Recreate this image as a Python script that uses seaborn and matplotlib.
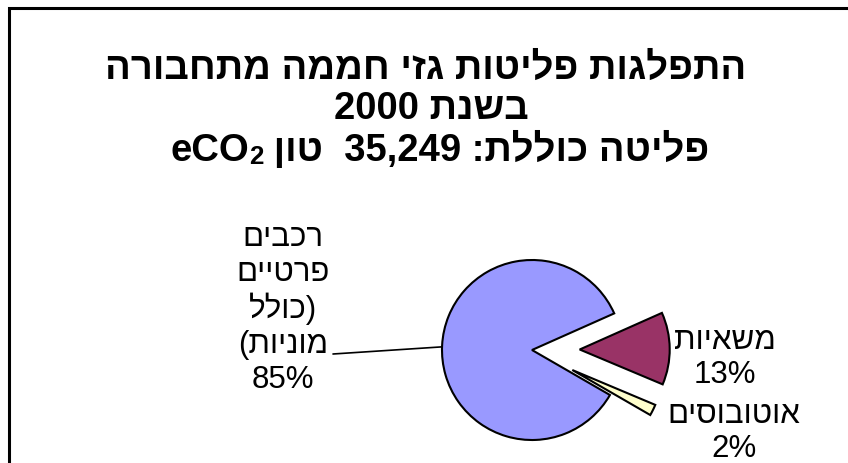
import re
import matplotlib
matplotlib.use("Agg")
import matplotlib.pyplot as plt
import numpy as np
import seaborn as sns

# Transport greenhouse-gas emissions, year 2000 (share of total, %)
categories = ["רכבים\nפרטיים\n(כולל\nמוניות)", "משאיות", "אוטובוסים"]
shares = [85, 13, 2]
colors = ["#9999FF", "#993366", "#FFFFCC"]
explode_frac = [0.0, 0.53, 0.5]   # offset as a fraction of the radius

year = 2000
total_tons = 35249
title_line1 = "התפלגות פליטות גזי חממה מתחבורה"
title_line2 = f"בשנת {year}"
title_line3 = f"פליטה כוללת: {total_tons:,}  טון "

sns.set_theme(style="white")
plt.rcParams["font.family"] = ["Liberation Sans", "DejaVu Sans"]
plt.rcParams["text.color"] = "black"

MIRROR = {"(": ")", ")": "("}


def visual(line):
    """Lay out one right-to-left line as left-to-right glyph order."""
    r = "".join(MIRROR.get(c, c) for c in line[::-1])
    return re.sub(r"[A-Za-z0-9,.%]+", lambda m: m.group(0)[::-1], r)


def visual_block(text):
    return "\n".join(visual(l) for l in text.split("\n"))


W, H = 848, 463
fig = plt.figure(figsize=(W / 100, H / 100), dpi=100)
ax = fig.add_axes([0, 0, 1, 1])

# pie geometry in pixel units (y measured from the bottom)
cx, cy, rad = 532, H - 350, 90
wedges, _ = ax.pie(
    shares,
    colors=colors,
    explode=[f * rad for f in explode_frac],
    startangle=-30,
    counterclock=False,
    center=(cx, cy),
    radius=rad,
    wedgeprops=dict(edgecolor="black", linewidth=1.5),
)
ax.set_xlim(0, W)
ax.set_ylim(0, H)
ax.set_aspect("equal")
ax.axis("off")

# outer frame
ax.plot([9, 9, W + 5], [-5, H - 8, H - 8], color="black", lw=2.2,
        solid_joinstyle="miter", clip_on=False)

# slice labels
lab_fs = 22.5
ax.text(283, H - 309, visual_block(f"{categories[0]}\n{shares[0]}%"),
        ha="center", va="center", fontsize=lab_fs, color="black")
ax.text(725, H - 358, visual_block(f"{categories[1]}\n{shares[1]}%"),
        ha="center", va="center", fontsize=lab_fs, color="black")
ax.text(734, H - 432, visual_block(f"{categories[2]}\n{shares[2]}%"),
        ha="center", va="center", fontsize=lab_fs, color="black")

# leader line from the large slice to its label
ang = np.deg2rad(178)
ax.plot([333, cx + rad * np.cos(ang)], [H - 354, cy + rad * np.sin(ang)],
        color="black", lw=1.2)

# title
tfs = 27.5
ax.text(426, H - 79, visual(title_line1), ha="center", va="baseline",
        fontsize=tfs, fontweight="bold", color="black")
ax.text(431, H - 119, visual(title_line2), ha="center", va="baseline",
        fontsize=tfs, fontweight="bold", color="black")

# third title line: Hebrew part + "eCO" with subscript 2
renderer = fig.canvas.get_renderer()
t_main = ax.text(0, H - 161, "eCO", ha="left", va="baseline",
                 fontsize=tfs, fontweight="bold", color="black")
t_sub = ax.text(0, H - 164, "2", ha="left", va="baseline",
                fontsize=tfs * 0.68, fontweight="bold", color="black")
t_heb = ax.text(0, H - 161, visual(title_line3), ha="left", va="baseline",
                fontsize=tfs, fontweight="bold", color="black")
w_main = t_main.get_window_extent(renderer).width
w_sub = t_sub.get_window_extent(renderer).width
w_heb = t_heb.get_window_extent(renderer).width
x0 = 440 - (w_main + w_sub + w_heb) / 2
t_main.set_x(x0)
t_sub.set_x(x0 + w_main)
t_heb.set_x(x0 + w_main + w_sub)

fig.savefig("out.png", dpi=100, facecolor="white")
